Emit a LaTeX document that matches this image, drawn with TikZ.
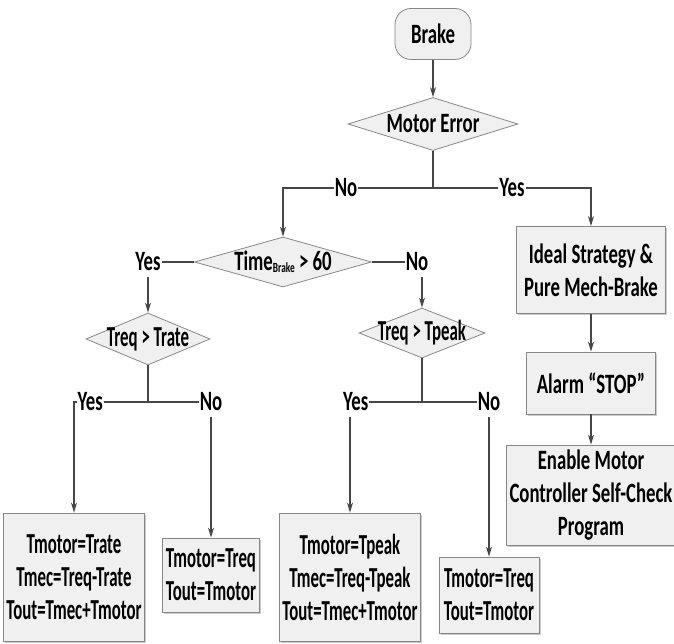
\documentclass[tikz,border=0pt]{standalone}
\usepackage{fontspec}
\setmainfont{Carlito}[FakeStretch=0.67]
\newfontfamily\eqfont{Carlito}[FakeStretch=0.58]
\usetikzlibrary{arrows.meta, positioning, shapes.geometric, shadows}
\definecolor{lineGray}{RGB}{70,70,70}
\definecolor{boxFill}{RGB}{240,240,240}
\definecolor{boxDraw}{RGB}{135,135,135}
\tikzset{
    terminal/.style={rectangle, rounded corners=16pt, draw=boxDraw, fill=boxFill, line width=0.8pt},
    decision/.style={diamond, draw=boxDraw, fill=boxFill, line width=0.8pt, inner sep=-12pt, shape aspect=3},
    process/.style={rectangle, draw=boxDraw, fill=boxFill, line width=0.8pt, align=center,
        drop shadow={shadow xshift=1.5pt, shadow yshift=-1.5pt, fill=black!40, opacity=0.5}},
    result/.style={process, font=\fontsize{29}{33}\selectfont\bfseries\eqfont},
    lbl/.style={fill=white, inner xsep=1pt, inner ysep=6pt},
    flow/.style={draw=lineGray, line width=1.3pt, ->},
    line/.style={draw=lineGray, line width=1.3pt},
}

\begin{document}
\begin{tikzpicture}[x=1pt, y=-1pt, >={Stealth[length=10pt, width=6pt]},
    font=\fontsize{28}{33}\selectfont\bfseries]
    \useasboundingbox (0,0) rectangle (674,644);
    %
    \node [terminal, minimum width=76pt, minimum height=51pt] (brake) at (433,34) {Brake};
    \node [decision, below of=brake, node distance=90pt, minimum width=170pt, minimum height=53pt] (motor) {Motor Error};
    \coordinate (split) at (433,188);
    \node [decision, minimum width=177pt, minimum height=50pt] (time) at (283,262)
        {Time\raisebox{-2pt}{\fontsize{14}{14}\selectfont Brake} > 60};
    \node [process, minimum width=149pt, minimum height=87pt] (ideal) at (591,270) {Ideal Strategy \&\\Pure Mech-Brake};
    \node [process, below of=ideal, node distance=113pt, minimum width=129pt, minimum height=62pt] (alarm) {Alarm “STOP”};
    \node [process, below of=alarm, node distance=112pt, minimum width=160pt, minimum height=100pt] (selfcheck)
        {Enable Motor\\Controller Self-Check\\Program};
    %
    \node [decision, minimum width=124pt, minimum height=52pt, font=\fontsize{29}{33}\selectfont\bfseries\eqfont] (trate) at (148,339) {Treq > Trate};
    \node [decision, minimum width=126pt, minimum height=50pt, font=\fontsize{29}{33}\selectfont\bfseries\eqfont] (tpeak) at (422,333) {Treq > Tpeak};
    \coordinate (rsplit) at (148,402);
    \coordinate (psplit) at (422,402);
    %
    \node [result, minimum width=134pt, minimum height=128pt] (rateout) at (74,577) {Tmotor=Trate\\Tmec=Treq-Trate\\Tout=Tmec+Tmotor};
    \node [result, minimum width=96pt, minimum height=74pt] (reqout) at (211,575) {Tmotor=Treq\\Tout=Tmotor};
    \node [result, minimum width=134pt, minimum height=128pt] (peakout) at (350,577) {Tmotor=Tpeak\\Tmec=Treq-Tpeak\\Tout=Tmec+Tmotor};
    \node [result, minimum width=100pt, minimum height=76pt] (reqpeak) at (489,595) {Tmotor=Treq\\Tout=Tmotor};
    %
    \path [flow] (brake) -- (motor);
    \path [line] (motor) -- (split);
    \path [flow] (split) -| node[lbl, pos=0.29] {No} (time);
    \path [flow] (split) -| node[lbl, pos=0.25] {Yes} (ideal);
    \path [flow] (ideal) -- (alarm);
    \path [flow] (alarm) -- (selfcheck);
    \path [flow] (time.west) -| node[lbl, pos=0.5] {Yes} (trate);
    \path [flow] (time.east) -| node[lbl, pos=0.45] {No} (tpeak);
    \path [line] (trate) -- (rsplit);
    \path [flow] (rsplit) -| node[lbl, pos=0.39] {Yes} (rateout);
    \path [flow] (rsplit) -| node[lbl, pos=0.5] {No} (reqout);
    \path [line] (tpeak) -- (psplit);
    \path [flow] (psplit) -| node[lbl, pos=0.46] {Yes} (peakout);
    \path [flow] (psplit) -| node[lbl, pos=0.5] {No} (reqpeak);
\end{tikzpicture}
\end{document}
